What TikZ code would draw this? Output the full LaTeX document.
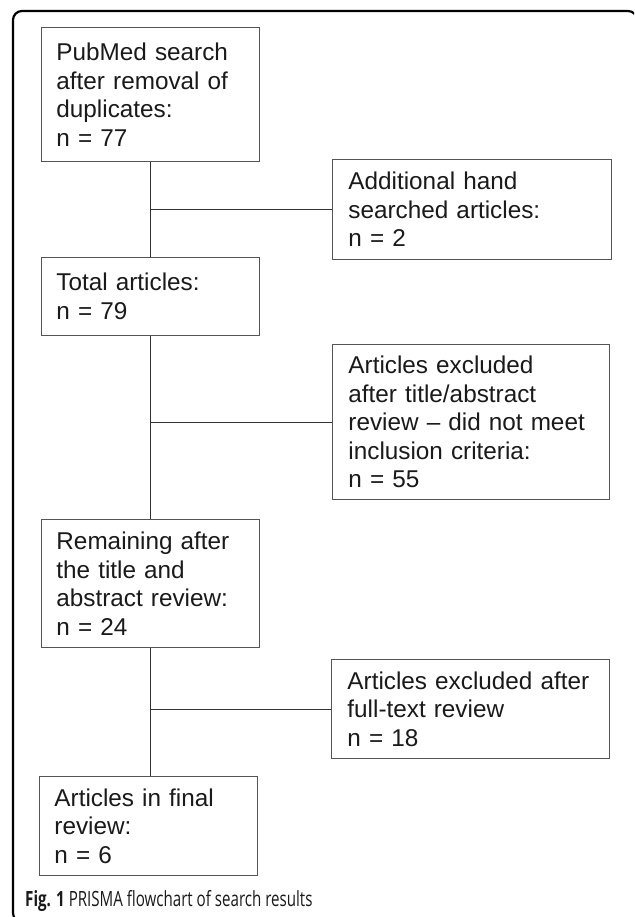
\documentclass[tikz,border=0pt]{standalone}
\usepackage{fontspec}
\usepackage{graphicx}
\setmainfont{Liberation Sans}
\newfontfamily\capfont{Open Sans}
\definecolor{boxgray}{HTML}{555555}
\definecolor{linecol}{HTML}{333333}
\definecolor{txtcol}{HTML}{1A1A1A}
\begin{document}
\begin{tikzpicture}[x=1pt,y=-1pt,
  box/.style={draw=boxgray, line width=0.9pt, anchor=north west, align=left,
    inner xsep=15pt, inner ysep=0pt, text=txtcol,
    font=\fontsize{24.3}{28.5}\selectfont},
  rbox/.style={box, inner xsep=16pt},
  conn/.style={draw=linecol, line width=0.9pt},
  frame/.style={draw=black, line width=2.2pt, rounded corners=9pt}]
\useasboundingbox (0,0) rectangle (634,917);
\clip (0,0) rectangle (634,917);
\fill[white] (0,0) rectangle (634,917);
\draw[frame] (13,11) rectangle (637,922);
% boxes
\node[box, text width=188pt, minimum height=134pt] (b1) at (41,27)
  {PubMed search\\after removal of\\duplicates:\\n = 77};
\node[rbox, text width=247pt, minimum height=100pt] (b2) at (332,159)
  {Additional hand\\searched articles:\\n = 2};
\node[box, text width=188pt, minimum height=78pt] (b3) at (41,257)
  {Total articles:\\n = 79};
\node[rbox, text width=245pt, minimum height=155pt] (b4) at (332,344)
  {Articles excluded\\after title/abstract\\review -- did not meet\\inclusion criteria:\\n = 55};
\node[box, text width=188pt, minimum height=128pt] (b5) at (41,519)
  {Remaining after\\the title and\\abstract review:\\n = 24};
\node[rbox, text width=246pt, minimum height=99pt] (b6) at (331,659)
  {Articles excluded after\\full-text review\\n = 18};
\node[box, text width=188pt, minimum height=99pt] (b7) at (39,776)
  {Articles in final\\review:\\n = 6};
% connectors
\draw[conn] (b1.south) -- (b3.north);
\draw[conn] (b2.west) -- (b2.west -| b1.south);
\draw[conn] (b3.south) -- (b5.north);
\draw[conn] (b4.west) -- (b4.west -| b3.south);
\draw[conn] (b5.south) -- (b7.north -| b5.south);
\draw[conn] (b6.west) -- (b6.west -| b5.south);
% caption
\node[anchor=base west, inner sep=0pt, text=txtcol] (cap) at (25,906)
  {\scalebox{0.72}[1]{\capfont\fontsize{21}{25}\selectfont\textbf{Fig. 1} PRISMA flowchart of search results}};
\end{tikzpicture}
\end{document}
